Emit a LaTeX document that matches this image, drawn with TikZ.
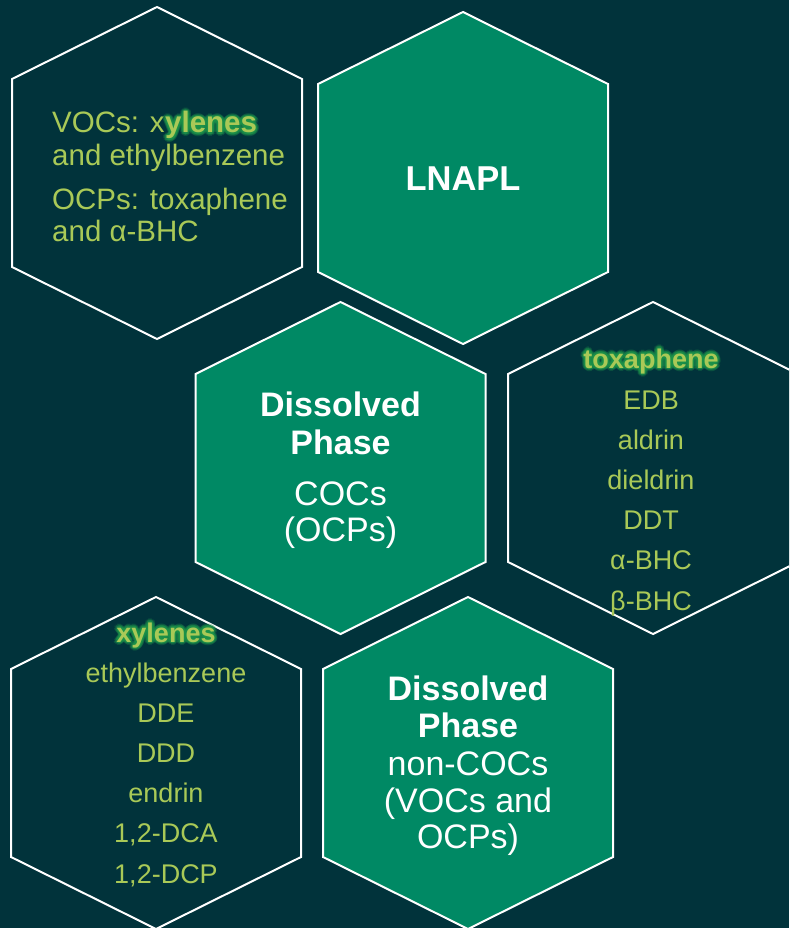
\documentclass[tikz,border=0pt]{standalone}
\usepackage{fontspec}
\setmainfont{Liberation Sans}
\usetikzlibrary{calc}
\definecolor{bgc}{RGB}{1,51,59}
\definecolor{hexg}{RGB}{0,137,100}
\definecolor{lime}{RGB}{169,201,87}
\definecolor{glowc}{RGB}{30,150,75}
\tikzset{
  hexa/.pic={\path[pic actions] (0,-166) -- (145,-94) -- (145,94) -- (0,166) -- (-145,94) -- (-145,-94) -- cycle;},
  hexdark/.style={draw=white, line width=2pt, fill=bgc},
  hexgreen/.style={draw=white, line width=2pt, fill=hexg},
  limetxt/.style={text=lime, inner sep=0pt, font=\fontsize{27}{32}\selectfont},
  limebig/.style={text=lime, inner sep=0pt, font=\fontsize{29.5}{33}\selectfont},
  boldlime/.style={text=lime, inner sep=0pt, font=\fontsize{27}{32}\selectfont\bfseries},
  boldlimebig/.style={text=lime, inner sep=0pt, font=\fontsize{29.5}{33}\selectfont\bfseries},
  glowtxt/.style={text=glowc, text opacity=0.28, inner sep=0pt},
  whitebold/.style={text=white, inner sep=0pt, font=\fontsize{34}{38}\selectfont\bfseries},
  whitereg/.style={text=white, inner sep=0pt, font=\fontsize{34}{38}\selectfont},
}
% name, coordinate, anchor, style, text
\newcommand\glowat[5]{%
  \foreach \a in {0,30,...,330}{%
    \node[#4, glowtxt, anchor=#3] at ($(#2)+(\a:3.2)$) {#5};
    \node[#4, glowtxt, anchor=#3] at ($(#2)+(\a+15:1.7)$) {#5};
  }
  \node[#4, anchor=#3] (#1) at (#2) {#5};
}
\begin{document}
\begin{tikzpicture}[x=1pt,y=-1pt]
\fill[bgc] (0,0) rectangle (789,928);
\useasboundingbox (0,0) rectangle (789,928);
\clip (0,0) rectangle (789,928);

% hexagons
\pic[hexdark] at (157,173) {hexa};
\pic[hexgreen] at (463,178) {hexa};
\pic[hexgreen] at (340.5,468) {hexa};
\pic[hexdark] at (653,468) {hexa};
\pic[hexdark] at (156,763) {hexa};
\pic[hexgreen] at (468,763) {hexa};

% top-left hexagon text
\node[limebig, anchor=base west] (v1) at (52,133) {VOCs: x};
\coordinate (v1e) at (v1.base east);
\glowat{v1b}{v1e}{base west}{boldlimebig}{ylenes}
\node[limebig, anchor=base west] (v2) at (52,166) {and ethylbenzene};
\node[limebig, anchor=base west] (v3) at (52,209) {OCPs: toxaphene};
\node[limebig, anchor=base west] (v4) at (52,241) {and α-BHC};

% LNAPL
\node[whitebold, font=\fontsize{34.5}{40}\selectfont\bfseries, anchor=base] (lnapl) at (463,190) {LNAPL};

% Dissolved phase COCs
\node[whitebold, anchor=base] (d1a) at (340.5,416) {Dissolved};
\node[whitebold, anchor=base] (d1b) at (340.5,454) {Phase};
\node[whitereg, anchor=base] (d1c) at (340.5,505) {COCs};
\node[whitereg, anchor=base] (d1d) at (340.5,541) {(OCPs)};

% right list
\coordinate (tx) at (651,368);
\glowat{h4t}{tx}{base}{boldlime}{toxaphene}
\foreach \t [count=\i] in {EDB, aldrin, dieldrin, DDT, α-BHC, β-BHC}{
  \node[limetxt, anchor=base] (h4l\i) at (651,{409+40.2*(\i-1)}) {\t};
}

% bottom-left list
\coordinate (xy) at (166,642);
\glowat{h5t}{xy}{base}{boldlime}{xylenes}
\foreach \t [count=\i] in {ethylbenzene, DDE, DDD, endrin, {1,2-DCA}, {1,2-DCP}}{
  \node[limetxt, anchor=base] (h5l\i) at (166,{682+40.2*(\i-1)}) {\t};
}

% Dissolved phase non-COCs
\node[whitebold, anchor=base] (d2a) at (468,700) {Dissolved};
\node[whitebold, anchor=base] (d2b) at (468,737) {Phase};
\node[whitereg, anchor=base] (d2c) at (468,775) {non-COCs};
\node[whitereg, anchor=base] (d2d) at (468,812) {(VOCs and};
\node[whitereg, anchor=base] (d2e) at (468,848) {OCPs)};
\end{tikzpicture}
\end{document}
